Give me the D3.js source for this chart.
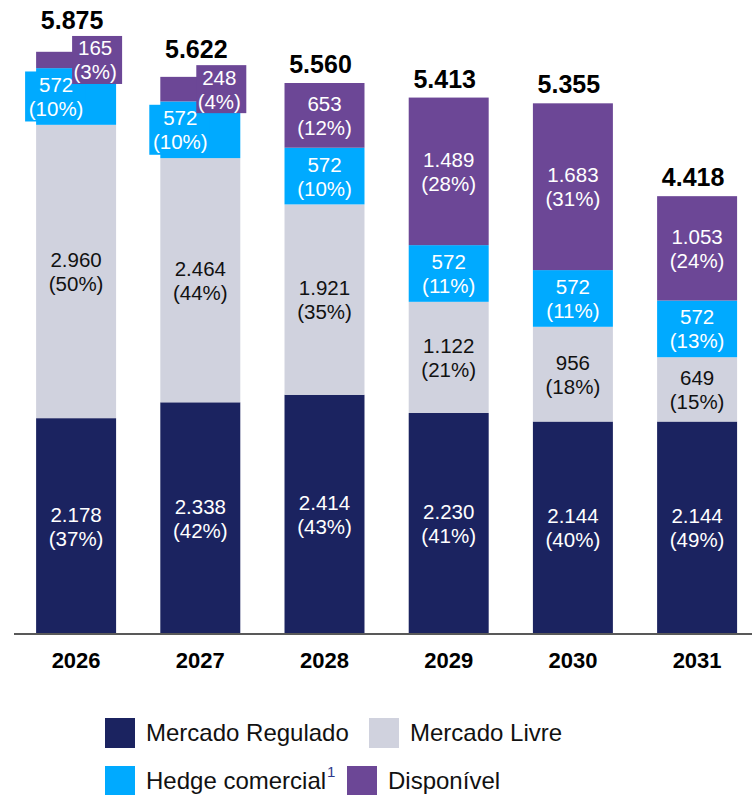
<!DOCTYPE html>
<html>
<head>
<meta charset="utf-8">
<script src="https://cdn.jsdelivr.net/npm/d3@7"></script>
<style>
  body { margin: 0; background: #fff; }
  text { font-family: "Liberation Sans", Arial, sans-serif; }
</style>
</head>
<body>
<script>
// Data
const years = ['2026', '2027', '2028', '2029', '2030', '2031'];
const mercadoRegulado = [2178, 2338, 2414, 2230, 2144, 2144];
const mercadoLivre = [2960, 2464, 1921, 1122, 956, 649];
const hedgeComercial = [572, 572, 572, 572, 572, 572];
const disponivel = [165, 248, 653, 1489, 1683, 1053];
const seriesNames = ['Mercado Regulado', 'Mercado Livre', 'Hedge comercial', 'Disponível'];

const keys = ['mr', 'ml', 'hc', 'dp'];
const colors = { mr: '#1b2360', ml: '#d0d2de', hc: '#00aaff', dp: '#6c4796' };
const textColors = { mr: '#ffffff', ml: '#111111', hc: '#ffffff', dp: '#ffffff' };

const rows = years.map((yr, i) => ({
  year: yr,
  mr: mercadoRegulado[i],
  ml: mercadoLivre[i],
  hc: hedgeComercial[i],
  dp: disponivel[i]
}));
rows.forEach(r => r.total = keys.reduce((s, k) => s + r[k], 0));

const br = d3.formatLocale({ decimal: ',', thousands: '.', grouping: [3], currency: ['', ''] });
const fmt = br.format(',d');

const width = 752, height = 795;
const svg = d3.select('body').append('svg')
  .attr('width', width)
  .attr('height', height);

const x = d3.scaleBand()
  .domain(years)
  .range([14, 759.2])
  .paddingInner(0.356)
  .paddingOuter(0.178);

const y = d3.scaleLinear()
  .domain([0, 6000])
  .range([634, 39.4]);

const stacked = d3.stack().keys(keys)(rows);

// Bars
const layers = svg.append('g').selectAll('g')
  .data(stacked)
  .enter().append('g')
  .attr('fill', d => colors[d.key]);

layers.selectAll('rect')
  .data(d => d)
  .enter().append('rect')
  .attr('x', d => x(d.data.year))
  .attr('y', d => y(d[1]))
  .attr('width', x.bandwidth())
  .attr('height', d => y(d[0]) - y(d[1]));

// is the top segment too thin for its label?
const isCramped = r => y(0) - y(r.dp) < 40;

// Labels
const labelG = svg.append('g');
const boxG = labelG.append('g');
const txtG = labelG.append('g');

stacked.forEach(layer => {
  const key = layer.key;
  layer.forEach(d => {
    const r = d.data;
    const val = r[key];
    const pct = Math.round(val / r.total * 100);
    let cx = x(r.year) + x.bandwidth() / 2;
    const cy = (y(d[0]) + y(d[1])) / 2;
    const moved = isCramped(r) && (key === 'hc' || key === 'dp');
    if (moved) {
      if (key === 'dp') {
        boxG.append('rect')
          .attr('x', cx - 4).attr('y', cy - 24)
          .attr('width', 50).attr('height', 48)
          .attr('fill', colors.dp);
        cx += 19;
      } else {
        boxG.insert('rect', ':first-child')
          .attr('x', cx - 51).attr('y', cy - 25)
          .attr('width', 60).attr('height', 50)
          .attr('fill', colors.hc);
        cx -= 20;
      }
    }
    const t = txtG.append('text')
      .attr('text-anchor', 'middle')
      .attr('font-size', '20.5px')
      .attr('fill', textColors[key]);
    t.append('tspan').attr('x', cx).attr('y', cy - 4.5).text(fmt(val));
    t.append('tspan').attr('x', cx).attr('y', cy + 19.5).text('(' + pct + '%)');
  });
});

// Totals
svg.append('g').selectAll('text')
  .data(rows)
  .enter().append('text')
  .attr('x', d => x(d.year) + x.bandwidth() / 2 - 4)
  .attr('y', d => {
    if (isCramped(d)) {
      const mid = (y(d.total - d.dp) + y(d.total)) / 2;
      return mid - 24 - 7;
    }
    return y(d.total) - 10;
  })
  .attr('text-anchor', 'middle')
  .attr('font-size', '25px')
  .attr('font-weight', 'bold')
  .attr('fill', '#000')
  .text(d => fmt(d.total));

// Baseline axis
const xAxis = d3.axisBottom(x).tickSize(0).tickPadding(0);
const axisG = svg.append('g')
  .attr('transform', 'translate(0,634)')
  .call(xAxis);
axisG.select('.domain').remove();
axisG.append('line')
  .attr('x1', 14).attr('x2', 752)
  .attr('stroke', '#595959')
  .attr('stroke-width', 2);
axisG.selectAll('.tick text')
  .attr('y', 34)
  .attr('dy', null)
  .attr('font-family', '"Liberation Sans", Arial, sans-serif')
  .attr('font-size', '22px')
  .attr('font-weight', 'bold')
  .attr('fill', '#000');

// Legend
const legendItems = [
  { key: 'mr', name: seriesNames[0], x: 105, y: 718 },
  { key: 'ml', name: seriesNames[1], x: 369, y: 718 },
  { key: 'hc', name: seriesNames[2], x: 105, y: 766, sup: '1' },
  { key: 'dp', name: seriesNames[3], x: 347, y: 766 }
];

const legend = svg.append('g');
legendItems.forEach(it => {
  legend.append('rect')
    .attr('x', it.x).attr('y', it.y)
    .attr('width', 30).attr('height', 30)
    .attr('fill', colors[it.key]);
  const t = legend.append('text')
    .attr('x', it.x + 41)
    .attr('y', it.y + 23)
    .attr('font-size', '24px')
    .attr('fill', '#111')
    .text(it.name);
  if (it.sup) {
    const w = t.node().getComputedTextLength();
    legend.append('text')
      .attr('x', it.x + 41 + w + 1)
      .attr('y', it.y + 11)
      .attr('font-size', '15px')
      .attr('fill', '#2d3a8c')
      .text(it.sup);
  }
});
</script>
</body>
</html>
